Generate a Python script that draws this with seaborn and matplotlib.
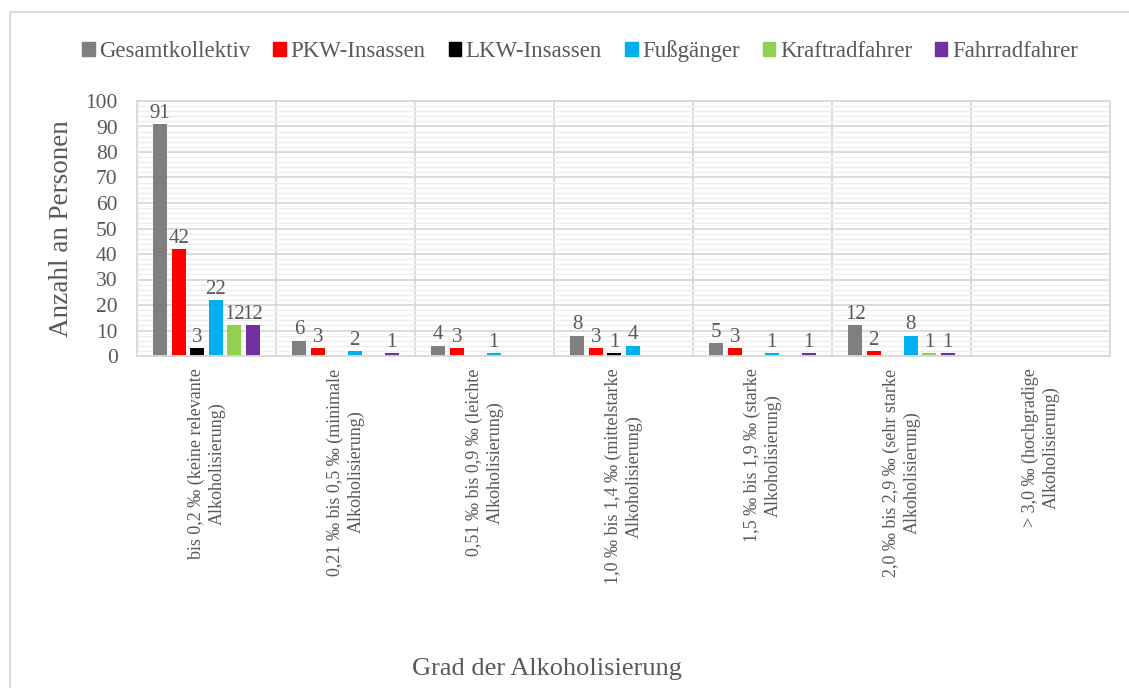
import matplotlib
matplotlib.use("Agg")
import matplotlib.pyplot as plt
import matplotlib.patches as mpatches
import numpy as np
import pandas as pd
import seaborn as sns

# Daten
kategorien = [
    "bis 0,2 ‰ (keine relevante\nAlkoholisierung)",
    "0,21 ‰ bis 0,5 ‰ (minimale\nAlkoholisierung)",
    "0,51 ‰ bis 0,9 ‰ (leichte\nAlkoholisierung)",
    "1,0 ‰ bis 1,4 ‰ (mittelstarke\nAlkoholisierung)",
    "1,5 ‰ bis 1,9 ‰ (starke\nAlkoholisierung)",
    "2,0 ‰ bis 2,9 ‰ (sehr starke\nAlkoholisierung)",
    "> 3,0 ‰ (hochgradige\nAlkoholisierung)",
]
gesamtkollektiv = [91, 6, 4, 8, 5, 12, 0]
pkw_insassen = [42, 3, 3, 3, 3, 2, 0]
lkw_insassen = [3, 0, 0, 1, 0, 0, 0]
fussgaenger = [22, 2, 1, 4, 1, 8, 0]
kraftradfahrer = [12, 0, 0, 0, 0, 1, 0]
fahrradfahrer = [12, 1, 0, 0, 1, 1, 0]

gruppen = ["Gesamtkollektiv", "PKW-Insassen", "LKW-Insassen",
           "Fußgänger", "Kraftradfahrer", "Fahrradfahrer"]
farben = ["#7f7f7f", "#ff0000", "#000000", "#00b0f0", "#92d050", "#7030a0"]

werte = [gesamtkollektiv, pkw_insassen, lkw_insassen,
         fussgaenger, kraftradfahrer, fahrradfahrer]
data = pd.DataFrame({
    "kategorie": np.tile(kategorien, len(gruppen)),
    "gruppe": np.repeat(gruppen, len(kategorien)),
    "anzahl": np.concatenate(werte),
})

sns.set_style("white")
plt.rcParams['font.family'] = ['Liberation Serif', 'DejaVu Serif']
textfarbe = "#595959"

fig = plt.figure(figsize=(11.29, 6.88), dpi=100)
ax = fig.add_axes([137 / 1129, 1 - 356 / 688, 973 / 1129, 255 / 688])

sns.barplot(data, x="kategorie", y="anzahl", hue="gruppe", order=kategorien,
            hue_order=gruppen, palette=farben, saturation=1, width=0.8,
            gap=0.25, linewidth=0, ax=ax)

for cont, vals in zip(ax.containers, werte):
    ax.bar_label(cont, labels=[str(v) if v > 0 else "" for v in vals],
                 fontsize=15, color=textfarbe, padding=1)

ax.set_ylim(0, 100)
ax.set_xlim(-0.5, len(kategorien) - 0.5)
ax.set_yticks(np.arange(0, 101, 10))
ax.set_yticks(np.arange(0, 101, 2), minor=True)
ax.set_xticks(np.arange(-0.5, len(kategorien), 1), minor=True)
ax.grid(which="minor", axis="y", color="#eeeeee", linewidth=1.0)
ax.grid(which="major", axis="y", color="#d9d9d9", linewidth=1.3)
ax.grid(which="minor", axis="x", color="#d9d9d9", linewidth=1.3)
ax.set_axisbelow(True)
for s in ax.spines.values():
    s.set_color("#d9d9d9")
    s.set_linewidth(1.3)

ax.tick_params(axis="both", which="both", length=0)
ax.tick_params(axis="y", labelsize=15.5, labelcolor=textfarbe, pad=14)
ax.set_xticks(range(len(kategorien)))
ax.set_xticklabels(kategorien, rotation=90, fontsize=13, color=textfarbe,
                   va="top", ha="center", multialignment="center",
                   linespacing=1.3)
ax.tick_params(axis="x", pad=9)

ax.set_ylabel("")
ax.set_xlabel("")
fig.text(62 / 1129, 1 - 229 / 688, "Anzahl an Personen", fontsize=19.5,
         color=textfarbe, ha="center", va="center", rotation=90)
fig.text(547 / 1129, 1 - 669 / 688, "Grad der Alkoholisierung", fontsize=19,
         color=textfarbe, ha="center", va="center")

handles = [mpatches.Patch(color=c, label=g) for g, c in zip(gruppen, farben)]
ax.legend(handles=handles, loc="center", bbox_to_anchor=(580 / 1129, 1 - 51 / 688),
          bbox_transform=fig.transFigure, ncol=6, frameon=False, fontsize=16.5,
          handlelength=0.55, handleheight=0.55, handletextpad=0.2,
          columnspacing=1.0, labelcolor=textfarbe)

rahmen = mpatches.Rectangle((10 / 1129, -0.1), 1.2, 1 - 12 / 688 + 0.1,
                            transform=fig.transFigure, fill=False,
                            edgecolor="#d9d9d9", linewidth=1.3)
fig.patches.append(rahmen)

plt.savefig("out.png", dpi=100)
plt.close()
